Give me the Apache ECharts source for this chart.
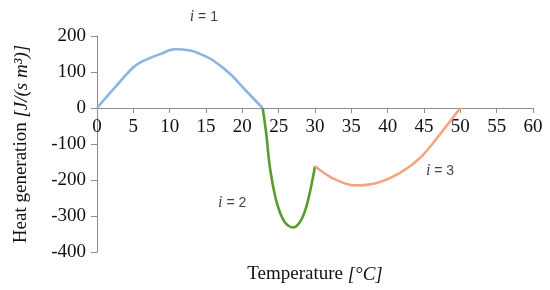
<!DOCTYPE html>
<html>
<head>
<meta charset="utf-8">
<script src="https://cdn.jsdelivr.net/npm/echarts@6/dist/echarts.min.js"></script>
<style>
  html, body { margin: 0; padding: 0; background: #fff; }
  #main { width: 550px; height: 290px; }
</style>
</head>
<body>
<div id="main"></div>
<script>
// curve pieces: [temperature, heat generation]
var curveI1 = [[0, 0], [2.5, 58], [5, 113], [6.3, 130], [8.6, 149], [10.7, 163],
  [13, 159], [14.1, 151], [16, 132], [18.3, 95], [20.5, 48], [22.8, 0]];
var curveI2 = [[22.8, 0], [23.3, -73], [23.8, -166], [24.7, -260], [25.8, -316],
  [27, -332], [28.1, -311], [29, -260], [30, -162]];
var curveI3 = [[30, -162], [32.5, -196], [35.5, -215], [38.5, -208], [41.7, -180],
  [44.5, -138], [47.2, -73], [50, 0]];

// "i = n" notes, placed in data units
var noteNames = ["1", "2", "3"];
var notePos = [[14.7, 252], [18.6, -263], [47.2, -175]];

var seriesColors = ["#8fb3e0", "#5b9a2f", "#f2a483"];

var serif = "Liberation Serif";
var axisGray = "#8c8c8c";

var chartDom = document.getElementById("main");
var myChart = echarts.init(chartDom, null, { renderer: "canvas" });

function lineSeries(data, color) {
  return {
    type: "line",
    data: data,
    smooth: 0.35,
    showSymbol: false,
    symbol: "none",
    lineStyle: { color: color, width: 2.6 },
    z: 3
  };
}

var option = {
  backgroundColor: "#fff",
  animation: false,
  grid: { left: 97, right: 17, top: 36, bottom: 38, outerBoundsMode: "none" },
  xAxis: {
    type: "value",
    position: "bottom",
    offset: 0,
    min: 0,
    max: 60,
    interval: 5,
    name: "{n|Temperature }{it|[°C]}",
    nameLocation: "middle",
    nameGap: 157,
    nameTextStyle: {
      rich: {
        n: { fontFamily: serif, fontSize: 19, color: "#111" },
        it: { fontFamily: serif, fontSize: 19, fontStyle: "italic", color: "#111" }
      }
    },
    axisLine: { onZero: false, lineStyle: { color: axisGray, width: 1 } },
    axisTick: { length: 5, lineStyle: { color: axisGray } },
    axisLabel: { fontFamily: serif, fontSize: 19, color: "#111", margin: 10 },
    splitLine: { show: false }
  },
  yAxis: {
    type: "value",
    min: -400,
    max: 200,
    interval: 100,
    name: "{n|Heat generation }{it|[J/(s m³)]}",
    nameLocation: "middle",
    nameGap: 66,
    nameTextStyle: {
      rich: {
        n: { fontFamily: serif, fontSize: 19, color: "#111" },
        it: { fontFamily: serif, fontSize: 19, fontStyle: "italic", color: "#111" }
      }
    },
    axisLine: { show: true, lineStyle: { color: axisGray, width: 1 } },
    axisTick: { show: true, length: 6, lineStyle: { color: axisGray } },
    axisLabel: { fontFamily: serif, fontSize: 19, color: "#111", margin: 11 },
    splitLine: { show: false }
  },
  series: [
    lineSeries(curveI1, seriesColors[0]),
    lineSeries(curveI2, seriesColors[1]),
    lineSeries(curveI3, seriesColors[2]),
    {
      type: "scatter",
      clip: false,
      symbolSize: 0,
      silent: true,
      data: notePos.map(function (p, k) {
        return { value: p, name: noteNames[k] };
      }),
      label: {
        show: true,
        position: "inside",
        formatter: function (p) {
          return "{it|i}{n| = " + p.name + "}";
        },
        rich: {
          it: { fontFamily: serif, fontStyle: "italic", fontSize: 16, color: "#111" },
          n: { fontFamily: "Liberation Sans", fontSize: 14, color: "#111" }
        }
      }
    }
  ]
};

myChart.setOption(option);

// move the temperature axis up to the zero line of the heat axis
var zeroY = myChart.convertToPixel({ yAxisIndex: 0 }, 0);
var bottomY = myChart.convertToPixel({ yAxisIndex: 0 }, -400);
myChart.setOption({ xAxis: { offset: zeroY - bottomY } });
</script>
</body>
</html>
